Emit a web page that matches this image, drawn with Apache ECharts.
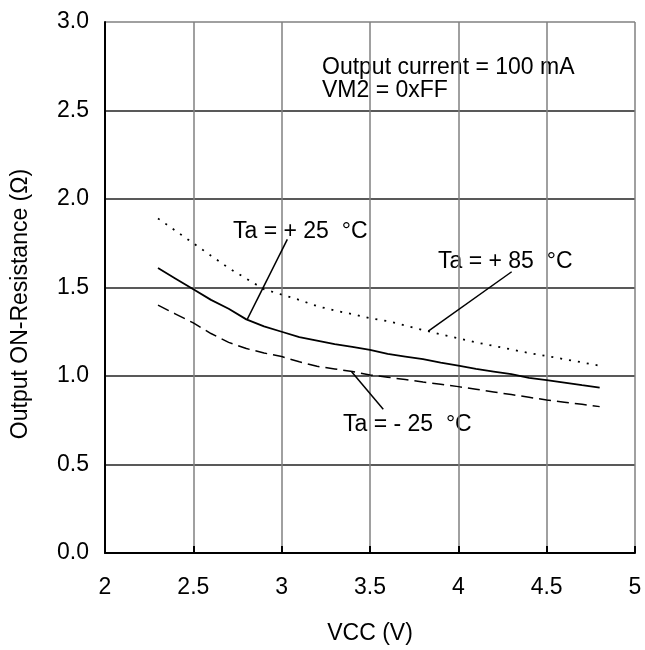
<!DOCTYPE html>
<html>
<head>
<meta charset="utf-8">
<script src="https://cdn.jsdelivr.net/npm/echarts@6/dist/echarts.min.js"></script>
<style>html,body{margin:0;padding:0;background:#fff;}#chart{width:645px;height:650px;}</style>
</head>
<body>
<div id="chart"></div>
<script>
// ---- data ----
var vcc = [2.3, 2.4, 2.5, 2.6, 2.7, 2.8, 2.9, 3.0, 3.1, 3.2, 3.3, 3.4, 3.5, 3.6, 3.7, 3.8, 3.9, 4.0, 4.1, 4.2, 4.3, 4.4, 4.5, 4.6, 4.7, 4.8];
var ta25  = [1.61, 1.55, 1.49, 1.43, 1.38, 1.32, 1.28, 1.25, 1.22, 1.20, 1.18, 1.165, 1.147, 1.125, 1.11, 1.095, 1.075, 1.058, 1.04, 1.025, 1.01, 0.99, 0.977, 0.963, 0.948, 0.934];
var ta85  = [1.89, 1.82, 1.75, 1.68, 1.61, 1.55, 1.49, 1.46, 1.43, 1.395, 1.37, 1.35, 1.326, 1.31, 1.285, 1.26, 1.235, 1.213, 1.19, 1.17, 1.15, 1.13, 1.113, 1.095, 1.077, 1.058];
var taM25 = [1.40, 1.35, 1.30, 1.24, 1.19, 1.155, 1.13, 1.11, 1.08, 1.055, 1.04, 1.025, 1.006, 0.993, 0.98, 0.966, 0.953, 0.94, 0.925, 0.91, 0.895, 0.88, 0.864, 0.852, 0.84, 0.827];
var xTicks = [2, 2.5, 3, 3.5, 4, 4.5, 5];
var yTicks = [0, 0.5, 1.0, 1.5, 2.0, 2.5, 3.0];
var labels = {
  cond1: 'Output current = 100 mA',
  cond2: 'VM2 = 0xFF',
  t25: 'Ta = + 25  \u00B0C',
  t85: 'Ta = + 85  \u00B0C',
  tm25: 'Ta = - 25  \u00B0C'
};
// leader lines [text end, curve end] in data units
var lead25  = [[3.032, 1.772], [2.805, 1.320]];
var lead85  = [[4.302, 1.589], [3.83, 1.254]];
var leadM25 = [[3.396, 1.024], [3.575, 0.812]];

function pairs(xs, ys) { return xs.map(function (x, i) { return [x, ys[i]]; }); }

var FONT = '"Liberation Sans", Arial, sans-serif';
var FS = 23;
var chart = echarts.init(document.getElementById('chart'), null, {renderer: 'canvas'});

function leader(pts) {
  return {
    silent: true, symbol: ['none', 'none'], label: {show: false},
    lineStyle: {color: '#000', width: 1.5, type: 'solid'},
    data: [[{coord: pts[0]}, {coord: pts[1]}]]
  };
}

var option = {
  animation: false,
  backgroundColor: '#fff',
  grid: {left: 105, right: 10, top: 22, bottom: 97, containLabel: false},
  xAxis: {
    type: 'value', min: xTicks[0], max: xTicks[xTicks.length - 1], interval: 0.5,
    name: 'VCC (V)', nameLocation: 'middle', nameGap: 69,
    nameTextStyle: {color: '#000', fontFamily: FONT, fontSize: FS},
    axisLine: {show: true, onZero: false, lineStyle: {color: '#000', width: 2}},
    axisTick: {show: true, inside: true, length: 7, lineStyle: {color: '#000', width: 2}},
    axisLabel: {color: '#000', fontFamily: FONT, fontSize: FS, margin: 23,
      formatter: function (v) { return String(v); }},
    splitLine: {show: true, lineStyle: {color: '#808080', width: 1.5}}
  },
  yAxis: {
    type: 'value', min: yTicks[0], max: yTicks[yTicks.length - 1], interval: 0.5,
    axisLine: {show: true, onZero: false, lineStyle: {color: '#000', width: 2}},
    axisTick: {show: false},
    axisLabel: {color: '#000', fontFamily: FONT, fontSize: FS, margin: 16,
      formatter: function (v) { return v.toFixed(1); }},
    splitLine: {show: true, lineStyle: {color: ['#222', '#222', '#222', '#222', '#222', '#222', '#808080'], width: 1.5}}
  },
  series: [
    {
      name: '+25', type: 'line', data: pairs(vcc, ta25), showSymbol: false, symbol: 'none',
      lineStyle: {color: '#000', width: 1.8, type: 'solid'},
      markLine: leader(lead25)
    },
    {
      name: '+85', type: 'line', data: pairs(vcc, ta85), showSymbol: false, symbol: 'none',
      lineStyle: {color: '#000', width: 1.8, type: [2, 7]},
      markLine: leader(lead85)
    },
    {
      name: '-25', type: 'line', data: pairs(vcc, taM25), showSymbol: false, symbol: 'none',
      lineStyle: {color: '#000', width: 1.5, type: [12, 6]},
      markLine: leader(leadM25)
    }
  ],
  graphic: [
    {type: 'text', left: 322, top: 56, style: {text: labels.cond1, fill: '#000', font: FS + 'px ' + FONT}},
    {type: 'text', left: 322, top: 79, style: {text: labels.cond2, fill: '#000', font: FS + 'px ' + FONT}},
    {type: 'text', left: 233, top: 220, style: {text: labels.t25, fill: '#000', font: FS + 'px ' + FONT}},
    {type: 'text', left: 438, top: 250, style: {text: labels.t85, fill: '#000', font: FS + 'px ' + FONT}},
    {type: 'text', left: 343, top: 413, style: {text: labels.tm25, fill: '#000', font: FS + 'px ' + FONT}},
    {type: 'text', x: 21, y: 304, rotation: Math.PI / 2,
      style: {text: 'Output ON-Resistance (\u03A9)', fill: '#000', font: FS + 'px ' + FONT, textAlign: 'center', textVerticalAlign: 'middle'}}
  ]
};
chart.setOption(option);
</script>
</body>
</html>
